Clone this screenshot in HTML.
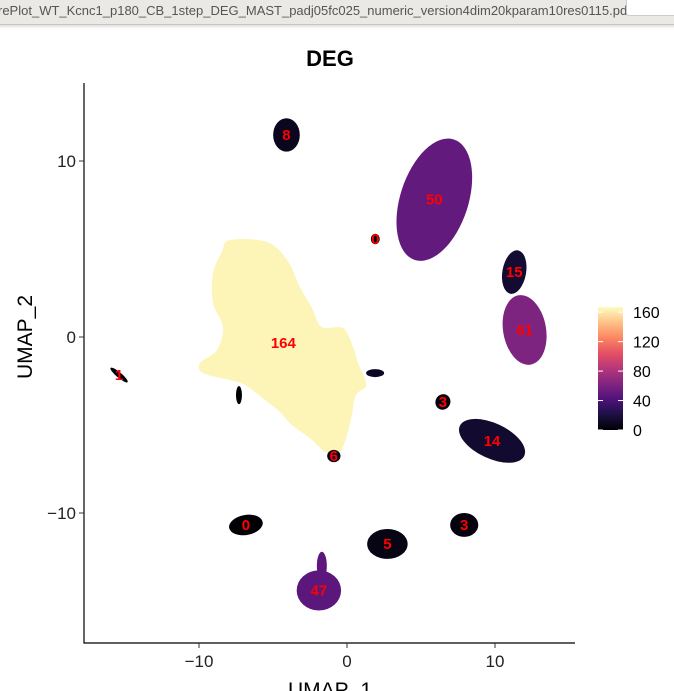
<!DOCTYPE html>
<html><head><meta charset="utf-8"><style>
body{margin:0;width:674px;height:691px;overflow:hidden;background:#fff;font-family:"Liberation Sans",sans-serif;}
#topbar{position:absolute;left:0;top:0;width:674px;height:24px;background:#ebe9e6;border-bottom:1px solid #c9c6c1;}
#topbar span{position:absolute;left:-2px;top:3px;font-size:13px;color:#555;white-space:nowrap;}
#topbar i{position:absolute;right:-4px;top:-2px;width:50px;height:16px;background:#fff;border:1px solid #ccc;border-radius:3px;}
#shade{position:absolute;left:0;top:25px;width:674px;height:4px;background:linear-gradient(#e2e0dd,#fff);}
svg{position:absolute;left:0;top:0;}
</style></head><body>
<div id="topbar"><span>rePlot_WT_Kcnc1_p180_CB_1step_DEG_MAST_padj05fc025_numeric_version4dim20kparam10res0115.pdf</span><i></i></div>
<div id="shade"></div>
<svg id="chart" width="674" height="691"></svg>
<script>
const bigOutline=[[-7.91,5.51],[-5.41,5.40],[-4.05,4.38],[-3.18,2.84],[-2.40,1.70],[-1.70,0.57],[-0.27,0.51],[0.41,-0.57],[0.75,-1.48],[1.3,-2.73],[0.6,-3.3],[0.3,-4.55],[-0.1,-5.85],[-0.6,-6.65],[-1.49,-6.53],[-2.36,-5.85],[-3.72,-5.0],[-4.53,-4.26],[-5.54,-3.58],[-6.89,-2.73],[-7.91,-2.44],[-9.73,-2.05],[-9.93,-1.48],[-8.78,-0.74],[-8.38,0.57],[-9.05,1.93],[-9.05,3.64],[-8.45,4.83]];
const bigValue=164;
const bigLabelPos=[-4.3,-0.35];
const clusterLabels=["8","50","0","15","61","1","3","14","6","0","3","5","47"];
const clusterValues=[8,50,0,15,61,1,3,14,6,0,3,5,47];
const clusterX=[-4.09,5.9,1.91,11.3,12.0,-15.4,6.48,9.8,-0.89,-6.83,7.92,2.73,-1.9];
const clusterY=[11.48,7.8,5.57,3.69,0.40,-2.16,-3.69,-5.9,-6.76,-10.68,-10.68,-11.76,-14.4];
const clusterRx=[0.9,2.3,0.3,0.8,1.45,0.75,0.5,2.4,0.45,1.15,0.95,1.37,1.5];
const clusterRy=[0.95,3.6,0.3,1.25,2.0,0.15,0.45,1.0,0.35,0.57,0.68,0.85,1.14];
const clusterRot=[0,18,0,10,-10,40,30,25,0,-10,0,0,0];
const xTicks=[-10,0,10];
const yTicks=[-10,0,10];
const legendTicks=[0,40,80,120,160];
const legendMax=167;

const X=u=>347+u*14.8, Y=u=>337-u*17.6;
const stops=["#000004","#1c1044","#4f127b","#812581","#b5367a","#e55064","#fb8761","#fec287","#fcfdbf"];
function hx(c){return [1,3,5].map(i=>parseInt(c.substr(i,2),16));}
function magma(v){let t=Math.max(0,Math.min(1,v/legendMax))*(stops.length-1);let i=Math.min(stops.length-2,Math.floor(t)),f=t-i;const a=hx(stops[i]),b=hx(stops[i+1]);return "rgb("+a.map((x,k)=>Math.round(x+(b[k]-x)*f)).join(",")+")";}
const svg=document.getElementById('chart');const NS="http://www.w3.org/2000/svg";
function mk(tag,at,parent){const e=document.createElementNS(NS,tag);for(const k in at)e.setAttribute(k,at[k]);(parent||svg).appendChild(e);return e;}

let t=mk('text',{x:330,y:66,'text-anchor':'middle','font-size':22,'font-weight':'bold',fill:'#000'});t.textContent="DEG";



const pts=bigOutline.map(p=>[X(p[0]),Y(p[1])]);let n=pts.length;let d="M"+pts[0].join(",");
for(let i=0;i<n;i++){const p0=pts[(i-1+n)%n],p1=pts[i],p2=pts[(i+1)%n],p3=pts[(i+2)%n];
d+=" C"+(p1[0]+(p2[0]-p0[0])/6)+","+(p1[1]+(p2[1]-p0[1])/6)+" "+(p2[0]-(p3[0]-p1[0])/6)+","+(p2[1]-(p3[1]-p1[1])/6)+" "+p2[0]+","+p2[1];}
let big=mk('path',{d:d+"Z",fill:magma(bigValue)});



for(let i=0;i<clusterValues.length;i++){
 const cx=X(clusterX[i]),cy=Y(clusterY[i]);
 let e=mk('ellipse',{cx:cx,cy:cy,rx:clusterRx[i]*14.8,ry:clusterRy[i]*17.6,fill:magma(clusterValues[i]),transform:"rotate("+clusterRot[i]+" "+cx+" "+cy+")"});
 
 
}
let st=mk('ellipse',{cx:X(-1.7),cy:Y(-13.0),rx:5,ry:14,fill:magma(47)});


let f1=mk('ellipse',{cx:X(1.9),cy:Y(-2.05),rx:9,ry:4,fill:'#0b0724'});


let f2=mk('ellipse',{cx:X(-7.3),cy:Y(-3.3),rx:3,ry:9,fill:'#000004'});



function lab(txt,u,v){let l=mk('text',{x:X(u),y:Y(v)+5,'text-anchor':'middle','font-size':15,'font-weight':'bold',fill:'#ff0000'});l.textContent=txt;
 
 }
lab(String(bigValue),bigLabelPos[0],bigLabelPos[1]);
for(let i=0;i<clusterLabels.length;i++)lab(clusterLabels[i],clusterX[i],clusterY[i]);

let ax=mk('path',{d:"M84,83 V643 H575",fill:'none',stroke:'#000','stroke-width':1.2});


xTicks.forEach(v=>{let tk=mk('line',{x1:X(v),x2:X(v),y1:643,y2:648,stroke:'#333'});
 
 
 let tl=mk('text',{x:X(v),y:667,'text-anchor':'middle','font-size':17,fill:'#222'});tl.textContent=v<0?"\u2212"+(-v):v;
 
 });
yTicks.forEach(v=>{let tk=mk('line',{x1:79,x2:84,y1:Y(v),y2:Y(v),stroke:'#333'});
 
 
 let tl=mk('text',{x:76,y:Y(v)+6,'text-anchor':'end','font-size':17,fill:'#222'});tl.textContent=v<0?"\u2212"+(-v):v;
 
 });
let xt=mk('text',{x:330,y:697,'text-anchor':'middle','font-size':21,fill:'#000'});xt.textContent="UMAP_1";


let yt=mk('text',{x:32,y:337,'text-anchor':'middle','font-size':21,fill:'#000',transform:'rotate(-90 32 337)'});yt.textContent="UMAP_2";



const defs=mk('defs',{});const g=mk('linearGradient',{id:'mg',x1:0,y1:1,x2:0,y2:0},defs);
stops.forEach((c,i)=>mk('stop',{offset:i/(stops.length-1),'stop-color':c},g));
const LY=v=>430-v/legendMax*123;
let bar=mk('rect',{x:598,y:307,width:25,height:123,fill:'url(#mg)'});


legendTicks.forEach(v=>{
 let a=mk('line',{x1:598,x2:603,y1:LY(v),y2:LY(v),stroke:'#fff'});
 
 
 let b=mk('line',{x1:618,x2:623,y1:LY(v),y2:LY(v),stroke:'#fff'});
 
 
 let l=mk('text',{x:633,y:LY(v)+6,'font-size':16,fill:'#000'});l.textContent=v;
 
 });
</script>
</body></html>
